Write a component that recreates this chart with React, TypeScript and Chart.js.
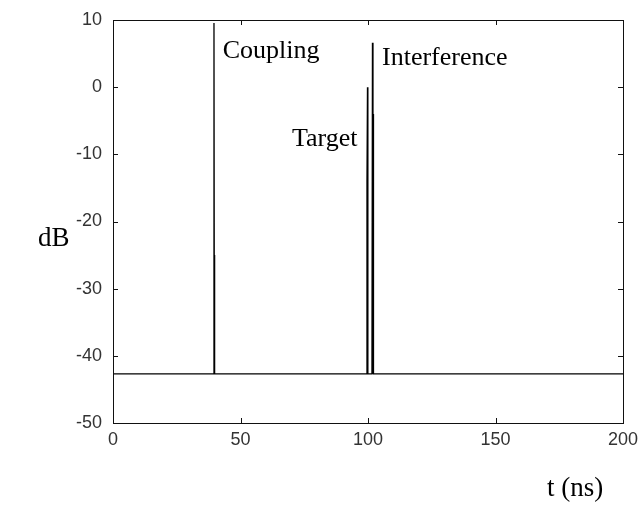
import React, { useEffect, useRef } from "react";
import { Chart, registerables } from "chart.js";
Chart.register(...registerables);

const baseline = -42.7;
const signalT = [0, 39.45, 39.6, 39.7, 39.8, 39.9, 99.45, 99.6, 99.8, 99.95, 101.55, 101.75, 101.95, 102.05, 102.15, 200];
const signalDb = [baseline, baseline, 9.55, -25, -25, baseline, baseline, -14, 0, baseline, baseline, 6.6, baseline, -4, baseline, baseline];
const xTicks = [0, 50, 100, 150, 200];
const yTicks = [10, 0, -10, -20, -30, -40, -50];
const labels = [
  { text: "Coupling", x: 43.0, y: 4.4 },
  { text: "Interference", x: 105.5, y: 3.3 },
  { text: "Target", x: 70.2, y: -8.7 },
];

const framePlugin = {
  id: "frame",
  afterDraw(chart: any) {
    const { ctx, chartArea: a, scales } = chart;
    const xs = scales.x, ys = scales.y;
    ctx.save();
    ctx.strokeStyle = "#111";
    ctx.lineWidth = 1;
    ctx.strokeRect(Math.round(a.left) + 0.5, Math.round(a.top) + 0.5, Math.round(a.right - a.left), Math.round(a.bottom - a.top));
    const tl = 5;
    ctx.beginPath();
    xTicks.forEach((v) => {
      const px = Math.round(xs.getPixelForValue(v)) + 0.5;
      ctx.moveTo(px, a.bottom); ctx.lineTo(px, a.bottom - tl);
      ctx.moveTo(px, a.top); ctx.lineTo(px, a.top + tl);
    });
    yTicks.forEach((v) => {
      const py = Math.round(ys.getPixelForValue(v)) + 0.5;
      ctx.moveTo(a.left, py); ctx.lineTo(a.left + tl, py);
      ctx.moveTo(a.right, py); ctx.lineTo(a.right - tl, py);
    });
    ctx.stroke();
    ctx.fillStyle = "#000";
    ctx.font = "26px 'Liberation Serif', serif";
    ctx.textBaseline = "alphabetic";
    ctx.textAlign = "left";
    labels.forEach((l) => {
      ctx.fillText(l.text, xs.getPixelForValue(l.x), ys.getPixelForValue(l.y));
    });
    ctx.font = "27px 'Liberation Serif', serif";
    ctx.fillText("dB", 38, 246);
    ctx.fillText("t (ns)", 547, 496);
    ctx.restore();
  },
};

export default function App() {
  const ref = useRef<HTMLCanvasElement>(null);
  useEffect(() => {
    document.body.style.margin = "0";
    const chart = new Chart(ref.current!, {
      type: "line",
      data: {
        datasets: [
          {
            data: signalT.map((t, i) => ({ x: t, y: signalDb[i] })),
            borderColor: "#000",
            borderWidth: 1.3,
            pointRadius: 0,
            tension: 0,
          },
        ],
      },
      options: {
        animation: false,
        responsive: false,
        layout: { padding: { top: 20, right: 21, left: 0, bottom: 0 } },
        plugins: { legend: { display: false }, tooltip: { enabled: false } },
        scales: {
          x: {
            type: "linear",
            min: 0,
            max: 200,
            afterFit: (s: any) => { s.height = 83; s.paddingLeft = 0; s.paddingRight = 0; },
            afterBuildTicks: (s: any) => { s.ticks = xTicks.map((v) => ({ value: v })); },
            grid: { display: false, drawTicks: false },
            border: { display: false },
            ticks: { padding: 6, color: "#333", font: { family: "'Liberation Sans', sans-serif", size: 18 } },
          },
          y: {
            type: "linear",
            min: -50,
            max: 10,
            afterFit: (s: any) => { s.width = 113; s.paddingTop = 0; s.paddingBottom = 0; },
            afterBuildTicks: (s: any) => { s.ticks = yTicks.map((v) => ({ value: v })); },
            grid: { display: false, drawTicks: false },
            border: { display: false },
            ticks: { padding: 11, color: "#333", font: { family: "'Liberation Sans', sans-serif", size: 18 } },
          },
        },
      },
      plugins: [framePlugin],
    });
    return () => chart.destroy();
  }, []);
  return (
    <div style={{ position: "absolute", left: 0, top: 0, width: 644, height: 506, background: "#fff" }}>
      <canvas ref={ref} width={644} height={506} />
    </div>
  );
}
